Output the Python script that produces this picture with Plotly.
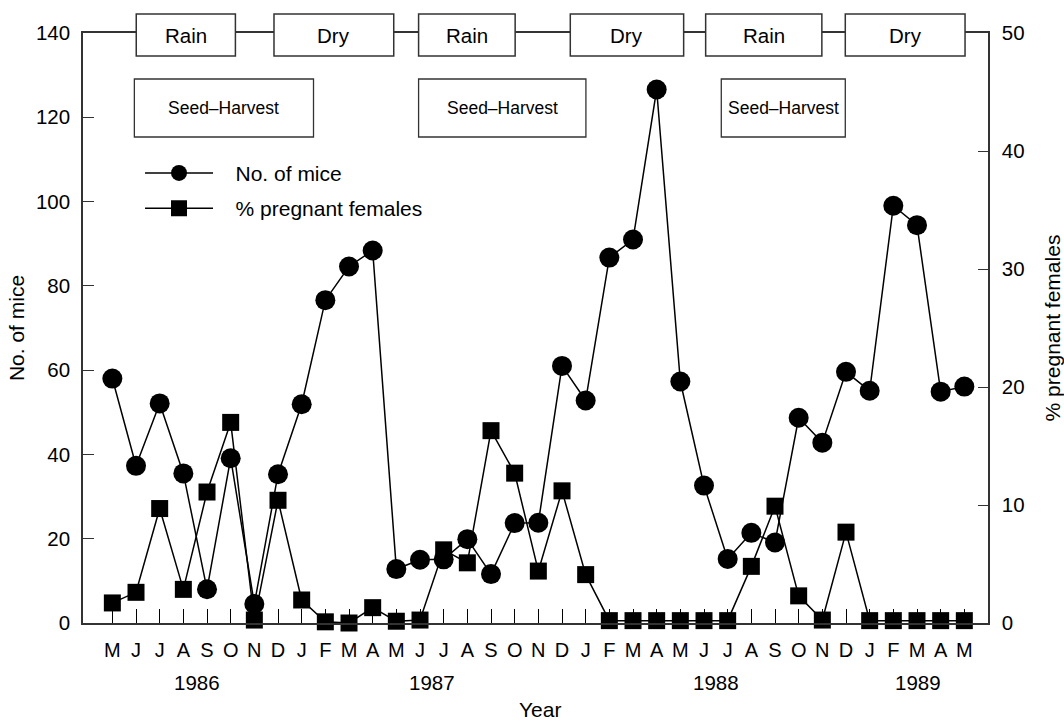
import plotly.graph_objects as go

months = ["M", "J", "J", "A", "S", "O", "N", "D", "J", "F", "M", "A",
          "M", "J", "J", "A", "S", "O", "N", "D", "J", "F", "M", "A",
          "M", "J", "J", "A", "S", "O", "N", "D", "J", "F", "M", "A",
          "M"]
mice = [58, 37.3, 52.1, 35.5, 8.0, 39.1, 4.5, 35.3, 51.9, 76.6, 84.6, 88.4,
        12.8, 15.0, 15.1, 19.9, 11.6, 23.7, 23.8, 61.0, 52.8, 86.7, 91.0, 126.6,
        57.3, 32.6, 15.2, 21.4, 19.1, 48.7, 42.8, 59.6, 55.1, 99.0, 94.4, 54.9,
        56.1]
pregnant = [1.7, 2.6, 9.7, 2.85, 11.1, 17.0, 0.25, 10.4, 1.95, 0.1, 0.0, 1.3,
            0.15, 0.25, 6.2, 5.1, 16.3, 12.7, 4.4, 11.2, 4.1, 0.2, 0.2, 0.2,
            0.2, 0.2, 0.2, 4.8, 9.9, 2.3, 0.25, 7.7, 0.2, 0.2, 0.2, 0.2,
            0.2]
years = ["1986", "1987", "1988", "1989"]
year_pos = [3.56, 13.52, 25.5, 34.05]

season_labels = ["Rain", "Dry", "Rain", "Dry", "Rain", "Dry"]
season_spans = [(1.01, 5.20), (6.83, 11.89), (12.94, 17.02),
                (19.35, 24.14), (25.07, 29.98), (30.97, 36.03)]
harvest_spans = [(0.93, 8.50), (12.94, 20.01), (25.73, 30.97)]

idx = list(range(len(months)))
FONT = "Liberation Sans, Arial, Helvetica, sans-serif"
PAD = "\u00a0\u00a0\u00a0"

fig = go.Figure()
fig.add_trace(go.Scatter(
    x=idx, y=mice, name=PAD + "No. of mice", mode="lines+markers",
    line=dict(color="black", width=1.5),
    marker=dict(symbol="circle", size=20, color="black"),
    cliponaxis=False, legendgroup="a", yaxis="y"))
fig.add_trace(go.Scatter(
    x=idx, y=pregnant, name=PAD + "% pregnant females", mode="lines+markers",
    line=dict(color="black", width=1.5),
    marker=dict(symbol="square", size=17, color="black"),
    cliponaxis=False, legendgroup="b", yaxis="y2"))

shapes = []
annotations = []
for (x0, x1), lab in zip(season_spans, season_labels):
    shapes.append(dict(type="rect", xref="x", yref="paper", x0=x0, x1=x1,
                       y0=0.961, y1=1.032, line=dict(color="#333", width=1.5),
                       fillcolor="white", layer="above"))
    annotations.append(dict(x=(x0 + x1) / 2, y=0.9966, xref="x", yref="paper",
                            text=lab, showarrow=False, xanchor="center",
                            yanchor="middle",
                            font=dict(size=20.5, color="black", family=FONT)))
for (x0, x1) in harvest_spans:
    shapes.append(dict(type="rect", xref="x", yref="paper", x0=x0, x1=x1,
                       y0=0.8237, y1=0.922, line=dict(color="#333", width=1.3),
                       fillcolor="white", layer="above"))
    annotations.append(dict(x=(x0 + x1) / 2, y=0.873, xref="x", yref="paper",
                            text="Seed\u2013Harvest", showarrow=False,
                            xanchor="center", yanchor="middle",
                            font=dict(size=17.5, color="black", family=FONT)))
for yp, yt in zip(year_pos, years):
    annotations.append(dict(x=yp, y=-0.1, xref="x", yref="paper", text=yt,
                            showarrow=False, xanchor="center", yanchor="middle",
                            font=dict(size=20.5, color="black", family=FONT)))
annotations.append(dict(x=0.505, y=-0.146, xref="paper", yref="paper",
                        text="Year", showarrow=False, xanchor="center",
                        yanchor="middle",
                        font=dict(size=21, color="black", family=FONT)))

fig.update_layout(
    width=1064, height=721,
    margin=dict(l=83, r=76, t=33, b=98),
    paper_bgcolor="white", plot_bgcolor="white",
    font=dict(family=FONT, size=20, color="black"),
    showlegend=True,
    legend=dict(x=0.063, y=0.797, xanchor="left", yanchor="top",
                bgcolor="rgba(0,0,0,0)", font=dict(size=21),
                tracegroupgap=5, itemwidth=68, traceorder="grouped"),
    xaxis=dict(range=[-1.24, 37.0], tickmode="array", tickvals=idx,
               ticktext=months, ticks="inside", ticklen=14, tickwidth=1.2,
               tickcolor="black", showline=True, linecolor="#333",
               linewidth=1.5, mirror=True, showgrid=False, zeroline=False,
               ticklabelstandoff=8, tickfont=dict(size=20), automargin=False),
    yaxis=dict(range=[0, 140], tickvals=[0, 20, 40, 60, 80, 100, 120, 140],
               ticks="inside", ticklen=11, tickcolor="#333",
               showline=True, linecolor="#333", linewidth=1.5,
               showgrid=False, zeroline=False, ticklabelstandoff=7,
               title=dict(text="No. of mice", font=dict(size=21), standoff=6),
               tickfont=dict(size=20.5), automargin=False),
    yaxis2=dict(range=[0, 50], tickvals=[0, 10, 20, 30, 40, 50],
                overlaying="y", side="right",
                ticks="inside", ticklen=10, tickcolor="#333",
                showline=True, linecolor="#333", linewidth=1.5,
                showgrid=False, zeroline=False, ticklabelstandoff=8,
                title=dict(text="% pregnant females", font=dict(size=21),
                           standoff=24),
                tickfont=dict(size=20.5), automargin=False),
    shapes=shapes, annotations=annotations,
)

fig.write_html("out.html")
